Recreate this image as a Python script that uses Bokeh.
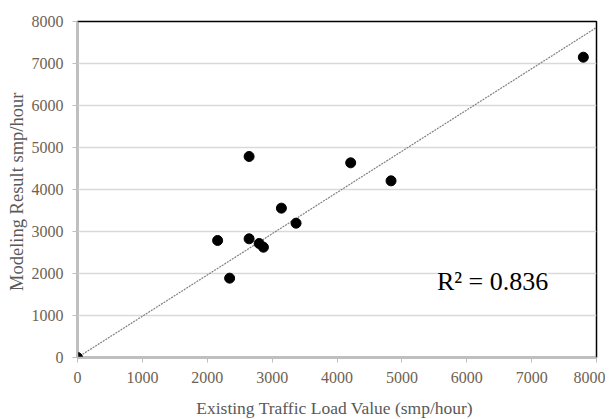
from bokeh.plotting import figure
from bokeh.models import Range1d, Label, FixedTicker
from bokeh.embed import file_html
from bokeh.resources import INLINE

existing = [0, 2160, 2345, 2645, 2645, 2800, 2866, 3143, 3369, 4211, 4833, 7797]
modeled = [0, 2786, 1889, 4786, 2826, 2714, 2626, 3556, 3198, 4635, 4206, 7150]
fit_x = [0, 8000]
fit_y = [0, 7857]
ticks = [0, 1000, 2000, 3000, 4000, 5000, 6000, 7000, 8000]
r2_text = "R\u00b2 = 0.836"

FONT = "Liberation Serif"
TICK_COLOR = "#6e6253"

p = figure(width=605, height=411, frame_width=519, frame_height=336,
           output_backend="svg", toolbar_location=None,
           x_range=Range1d(0, 8000), y_range=Range1d(0, 8000),
           min_border_left=77, min_border_top=21, min_border_right=9, min_border_bottom=54)

p.background_fill_color = "white"
p.border_fill_color = "white"
p.outline_line_color = "black"
p.outline_line_width = 1.5

p.xgrid.visible = False
p.ygrid.grid_line_color = "#d9d9d9"
p.ygrid.grid_line_width = 1.5

for ax in (p.xaxis[0], p.yaxis[0]):
    ax.ticker = FixedTicker(ticks=ticks)
    ax.axis_line_color = "#bfbfbf"
    ax.axis_line_width = 1.5
    ax.major_tick_line_color = "#bfbfbf"
    ax.major_tick_out = 5
    ax.major_tick_in = 0
    ax.minor_tick_line_color = None
    ax.major_label_text_font = FONT
    ax.major_label_text_font_size = "16px"
    ax.major_label_text_color = TICK_COLOR
    ax.axis_label_text_font = FONT
    ax.axis_label_text_font_style = "normal"
    ax.axis_label_text_color = "#595959"

p.xaxis.axis_label = "Existing  Traffic Load Value (smp/hour)"
p.yaxis.axis_label = "Modeling Result  smp/hour"
p.xaxis.axis_label_text_font_size = "17.5px"
p.yaxis.axis_label_text_font_size = "18.5px"
p.xaxis.major_label_standoff = 9
p.xaxis.axis_label_standoff = 12
p.yaxis.major_label_standoff = 9
p.yaxis.axis_label_standoff = 2

p.line(fit_x, fit_y, line_color="#808080", line_width=1.2, line_dash="2 1")
p.scatter(existing, modeled, marker="circle", size=10, fill_color="black", line_color="black")

p.add_layout(Label(x=5540, y=1470, text=r2_text, text_font=FONT, text_font_size="26px",
                   text_color="black", background_fill_color="white"))

open("out.html", "w").write(file_html(p, INLINE))
